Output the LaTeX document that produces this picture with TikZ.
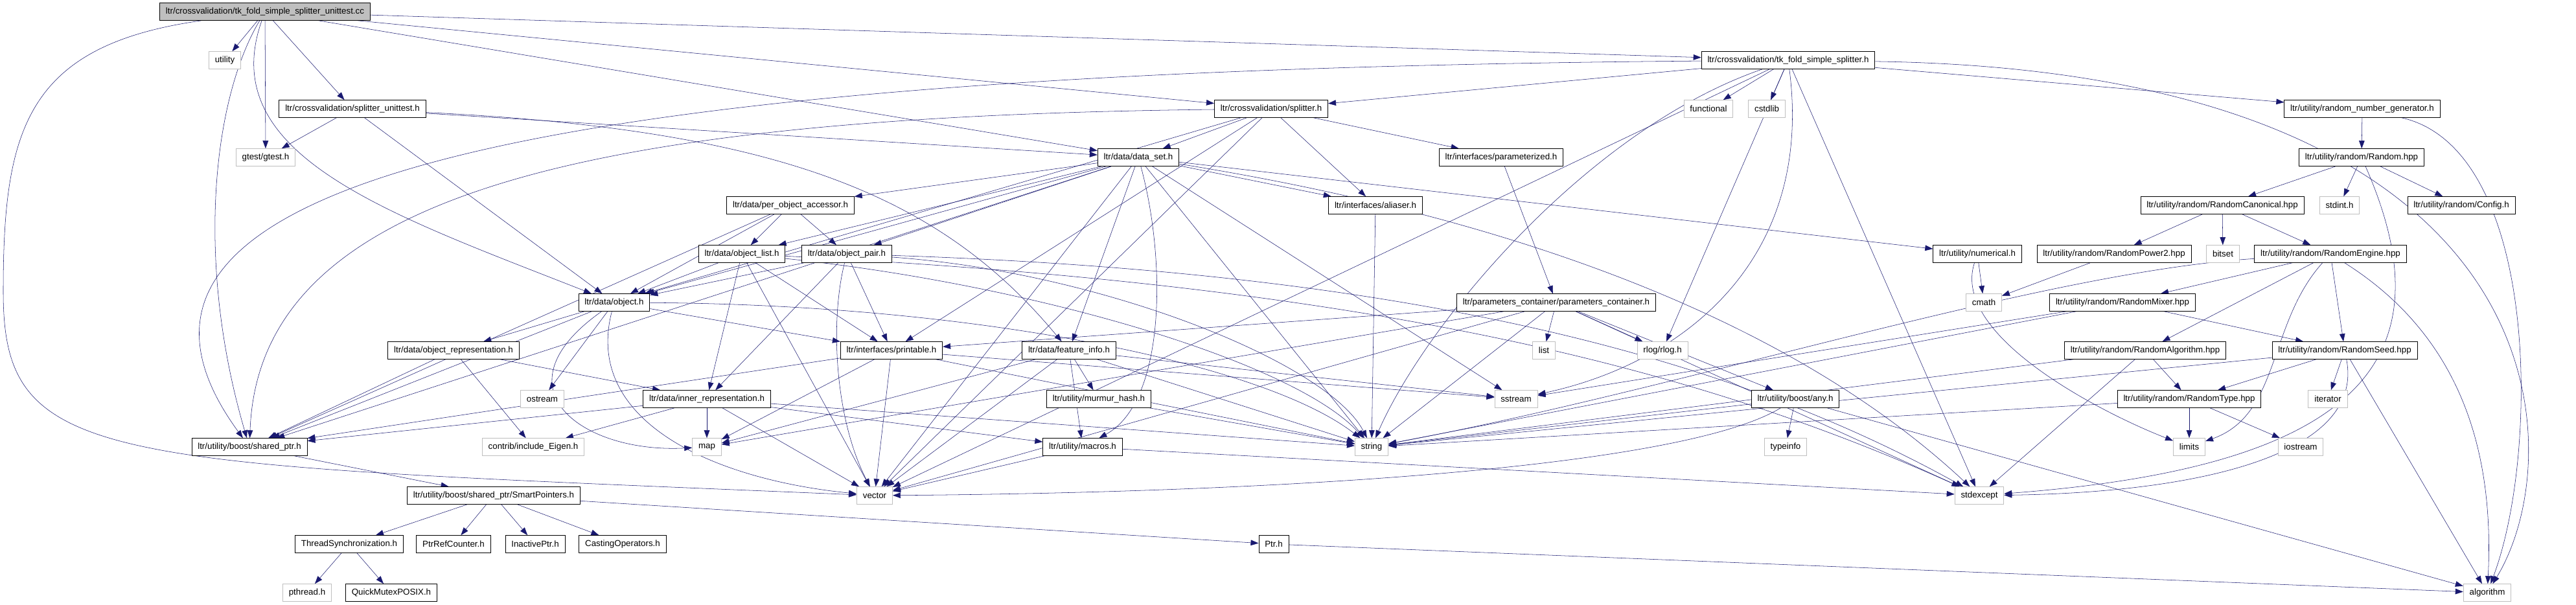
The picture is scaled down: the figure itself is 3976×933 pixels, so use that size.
\documentclass[tikz,border=0pt]{standalone}
\usepackage{fontspec}
\setmainfont{Liberation Sans}
\usetikzlibrary{arrows.meta}
\pgfdeclarelayer{edges}
\pgfsetlayers{edges,main}
\definecolor{edgeblue}{HTML}{191970}
\definecolor{extgray}{HTML}{BFBFBF}
\begin{document}
\begin{tikzpicture}[x=0.75pt,y=-0.75pt,>={Triangle[length=9pt,width=6.5pt]},line width=0.7pt]
    \tikzstyle{file}=[rectangle, draw, fill=white, minimum height=20pt, inner xsep=7pt, inner ysep=0pt, font=\fontsize{10}{12}\selectfont]
    \tikzstyle{sysfile}=[file, draw=extgray]
    \tikzstyle{dep}=[->, color=edgeblue]
    \useasboundingbox (0,0) rectangle (3976,933);
    \node[file, fill=extgray] (root) at (409,18) {ltr/crossvalidation/tk\_fold\_simple\_splitter\_unittest.cc};
    \node[sysfile] (utility) at (347,93) {utility};
    \node[file] (sptest) at (544,168) {ltr/crossvalidation/splitter\_unittest.h};
    \node[sysfile] (gtest) at (410,243) {gtest/gtest.h};
    \node[file] (tkfold) at (2760,93) {ltr/crossvalidation/tk\_fold\_simple\_splitter.h};
    \node[file] (splitter) at (1962,168) {ltr/crossvalidation/splitter.h};
    \node[sysfile] (functional) at (2637,168) {functional};
    \node[sysfile] (cstdlib) at (2727,168) {cstdlib};
    \node[file] (rng) at (3646,168) {ltr/utility/random\_number\_generator.h};
    \node[file] (dataset) at (1757,243) {ltr/data/data\_set.h};
    \node[file] (param) at (2317,243) {ltr/interfaces/parameterized.h};
    \node[file] (random) at (3645,243) {ltr/utility/random/Random.hpp};
    \node[file] (pobjacc) at (1220,317) {ltr/data/per\_object\_accessor.h};
    \node[file] (aliaser) at (2123,317) {ltr/interfaces/aliaser.h};
    \node[file] (rcanon) at (3430,317) {ltr/utility/random/RandomCanonical.hpp};
    \node[sysfile] (stdint) at (3611,317) {stdint.h};
    \node[file] (config) at (3799,317) {ltr/utility/random/Config.h};
    \node[file] (objlist) at (1145,392) {ltr/data/object\_list.h};
    \node[file] (objpair) at (1307,392) {ltr/data/object\_pair.h};
    \node[file] (numerical) at (3052,392) {ltr/utility/numerical.h};
    \node[file] (rpow2) at (3263,392) {ltr/utility/random/RandomPower2.hpp};
    \node[sysfile] (bitset) at (3431,392) {bitset};
    \node[file] (rengine) at (3597,392) {ltr/utility/random/RandomEngine.hpp};
    \node[file] (object) at (948,467) {ltr/data/object.h};
    \node[file] (paramcont) at (2402,467) {ltr/parameters\_container/parameters\_container.h};
    \node[sysfile] (cmath) at (3062,467) {cmath};
    \node[file] (rmixer) at (3276,467) {ltr/utility/random/RandomMixer.hpp};
    \node[file] (objrepr) at (700,541) {ltr/data/object\_representation.h};
    \node[file] (printable) at (1376,541) {ltr/interfaces/printable.h};
    \node[file] (featinfo) at (1650,541) {ltr/data/feature\_info.h};
    \node[sysfile] (list) at (2383,541) {list};
    \node[sysfile] (rlog) at (2566,541) {rlog/rlog.h};
    \node[file] (ralg) at (3311,541) {ltr/utility/random/RandomAlgorithm.hpp};
    \node[file] (rseed) at (3619,541) {ltr/utility/random/RandomSeed.hpp};
    \node[sysfile] (ostream) at (837,616) {ostream};
    \node[file] (innerrep) at (1091,616) {ltr/data/inner\_representation.h};
    \node[file] (murmur) at (1696,616) {ltr/utility/murmur\_hash.h};
    \node[sysfile] (sstream) at (2340,616) {sstream};
    \node[file] (anyh) at (2771,616) {ltr/utility/boost/any.h};
    \node[file] (rtype) at (3379,616) {ltr/utility/random/RandomType.hpp};
    \node[sysfile] (iterator) at (3593,616) {iterator};
    \node[file] (sharedptr) at (385,690) {ltr/utility/boost/shared\_ptr.h};
    \node[sysfile] (eigen) at (823,690) {contrib/include\_Eigen.h};
    \node[sysfile] (map) at (1091,690) {map};
    \node[file] (macros) at (1671,690) {ltr/utility/macros.h};
    \node[sysfile] (string) at (2117,690) {string};
    \node[sysfile] (typeinfo) at (2756,690) {typeinfo};
    \node[sysfile] (limits) at (3379,690) {limits};
    \node[sysfile] (iostream) at (3551,690) {iostream};
    \node[file] (smartptr) at (762,765) {ltr/utility/boost/shared\_ptr/SmartPointers.h};
    \node[sysfile] (vector) at (1350,765) {vector};
    \node[sysfile] (stdexcept) at (3055,765) {stdexcept};
    \node[file] (threadsync) at (539,840) {ThreadSynchronization.h};
    \node[file] (ptrref) at (700,840) {PtrRefCounter.h};
    \node[file] (inactive) at (826,840) {InactivePtr.h};
    \node[file] (casting) at (961,840) {CastingOperators.h};
    \node[file] (ptrh) at (1966,840) {Ptr.h};
    \node[sysfile] (pthread) at (474,915) {pthread.h};
    \node[file] (quickmutex) at (604,915) {QuickMutexPOSIX.h};
    \node[sysfile] (algorithm) at (3839,915) {algorithm};
    \begin{pgfonlayer}{edges}
    \draw[dep] (root) -- (utility);
    \draw[dep] (root) -- (gtest);
    \draw[dep] (root) -- (sptest);
    \draw[dep] (root) -- (tkfold);
    \draw[dep] (root) -- (splitter);
    \draw[dep] (root) -- (dataset);
    \draw[dep] (root) .. controls (330,240) and (600,330) .. (object);
    \draw[dep] (root) .. controls (330,150) and (300,400) .. (sharedptr);
    \draw[dep] (root) .. controls (40,70) and (5,200) .. (5,450) .. controls (5,720) and (150,715) .. (vector);
    \draw[dep] (sptest) -- (gtest);
    \draw[dep] (sptest) -- (dataset);
    \draw[dep] (sptest) -- (object);
    \draw[dep] (sptest) .. controls (1200,200) and (1450,300) .. (featinfo);
    \draw[dep] (tkfold) -- (splitter);
    \draw[dep] (tkfold) -- (functional);
    \draw[dep] (tkfold) -- (cstdlib);
    \draw[dep] (tkfold) -- (rng);
    \draw[dep] (tkfold) -- (rlog);
    \draw[dep] (tkfold) -- (stdexcept);
    \draw[dep] (tkfold) -- (vector);
    \draw[dep] (tkfold) .. controls (2450,200) and (2200,500) .. (string);
    \draw[dep] (tkfold) .. controls (2800,400) and (2600,560) .. (sstream);
    \draw[dep] (tkfold) .. controls (3960,110) and (3970,700) .. (algorithm);
    \draw[dep] (tkfold) .. controls (700,110) and (100,300) .. (sharedptr);
    \draw[dep] (splitter) -- (dataset);
    \draw[dep] (splitter) -- (param);
    \draw[dep] (splitter) -- (aliaser);
    \draw[dep] (splitter) -- (printable);
    \draw[dep] (splitter) -- (object);
    \draw[dep] (splitter) -- (vector);
    \draw[dep] (splitter) .. controls (900,180) and (400,300) .. (sharedptr);
    \draw[dep] (rng) -- (random);
    \draw[dep] (rng) .. controls (3920,230) and (3920,700) .. (algorithm);
    \draw[dep] (random) -- (rcanon);
    \draw[dep] (random) -- (stdint);
    \draw[dep] (random) -- (config);
    \draw[dep] (random) .. controls (3780,550) and (3650,720) .. (stdexcept);
    \draw[dep] (rcanon) -- (rpow2);
    \draw[dep] (rcanon) -- (bitset);
    \draw[dep] (rcanon) -- (rengine);
    \draw[dep] (rpow2) -- (cmath);
    \draw[dep] (numerical) -- (cmath);
    \draw[dep] (numerical) .. controls (3010,520) and (3250,640) .. (limits);
    \draw[dep] (rengine) -- (rmixer);
    \draw[dep] (rengine) -- (ralg);
    \draw[dep] (rengine) -- (rseed);
    \draw[dep] (rengine) .. controls (3500,500) and (3520,640) .. (limits);
    \draw[dep] (rengine) .. controls (3800,520) and (3850,700) .. (algorithm);
    \draw[dep] (rengine) .. controls (3150,420) and (2600,600) .. (string);
    \draw[dep] (rmixer) -- (rseed);
    \draw[dep] (rmixer) -- (string);
    \draw[dep] (rmixer) -- (sstream);
    \draw[dep] (ralg) -- (rtype);
    \draw[dep] (ralg) -- (string);
    \draw[dep] (ralg) -- (stdexcept);
    \draw[dep] (rseed) -- (rtype);
    \draw[dep] (rseed) -- (iterator);
    \draw[dep] (rseed) -- (string);
    \draw[dep] (rseed) -- (algorithm);
    \draw[dep] (rseed) .. controls (3650,700) and (3400,760) .. (stdexcept);
    \draw[dep] (rtype) -- (limits);
    \draw[dep] (rtype) -- (iostream);
    \draw[dep] (rtype) -- (string);
    \draw[dep] (dataset) -- (pobjacc);
    \draw[dep] (dataset) -- (objlist);
    \draw[dep] (dataset) -- (objpair);
    \draw[dep] (dataset) -- (object);
    \draw[dep] (dataset) -- (featinfo);
    \draw[dep] (dataset) -- (aliaser);
    \draw[dep] (dataset) -- (numerical);
    \draw[dep] (dataset) -- (sharedptr);
    \draw[dep] (dataset) -- (vector);
    \draw[dep] (dataset) -- (string);
    \draw[dep] (dataset) -- (sstream);
    \draw[dep] (dataset) .. controls (1800,400) and (1800,620) .. (macros);
    \draw[dep] (dataset) .. controls (2300,330) and (2750,480) .. (stdexcept);
    \draw[dep] (param) -- (paramcont);
    \draw[dep] (aliaser) -- (string);
    \draw[dep] (pobjacc) -- (objlist);
    \draw[dep] (pobjacc) -- (objpair);
    \draw[dep] (pobjacc) -- (object);
    \draw[dep] (pobjacc) -- (sharedptr);
    \draw[dep] (objlist) -- (object);
    \draw[dep] (objlist) -- (innerrep);
    \draw[dep] (objlist) -- (printable);
    \draw[dep] (objlist) -- (vector);
    \draw[dep] (objlist) .. controls (1600,440) and (2000,560) .. (string);
    \draw[dep] (objlist) .. controls (2100,440) and (2600,560) .. (stdexcept);
    \draw[dep] (objpair) -- (object);
    \draw[dep] (objpair) -- (innerrep);
    \draw[dep] (objpair) -- (printable);
    \draw[dep] (objpair) .. controls (1280,500) and (1290,650) .. (vector);
    \draw[dep] (objpair) .. controls (1700,420) and (2050,560) .. (string);
    \draw[dep] (objpair) .. controls (2150,420) and (2650,540) .. (stdexcept);
    \draw[dep] (object) -- (objrepr);
    \draw[dep] (object) -- (ostream);
    \draw[dep] (object) -- (printable);
    \draw[dep] (object) -- (sharedptr);
    \draw[dep] (object) .. controls (760,600) and (900,700) .. (map);
    \draw[dep] (object) .. controls (900,650) and (1100,740) .. (vector);
    \draw[dep] (object) .. controls (1500,470) and (1950,560) .. (string);
    \draw[dep] (objrepr) -- (sharedptr);
    \draw[dep] (objrepr) -- (eigen);
    \draw[dep] (objrepr) -- (innerrep);
    \draw[dep] (innerrep) -- (map);
    \draw[dep] (innerrep) -- (vector);
    \draw[dep] (innerrep) -- (macros);
    \draw[dep] (innerrep) -- (eigen);
    \draw[dep] (innerrep) -- (sharedptr);
    \draw[dep] (innerrep) -- (string);
    \draw[dep] (printable) -- (sharedptr);
    \draw[dep] (printable) -- (string);
    \draw[dep] (printable) -- (vector);
    \draw[dep] (printable) -- (sstream);
    \draw[dep] (printable) -- (map);
    \draw[dep] (featinfo) -- (murmur);
    \draw[dep] (featinfo) -- (macros);
    \draw[dep] (featinfo) -- (vector);
    \draw[dep] (featinfo) -- (string);
    \draw[dep] (featinfo) -- (map);
    \draw[dep] (featinfo) -- (sstream);
    \draw[dep] (murmur) -- (string);
    \draw[dep] (macros) -- (stdexcept);
    \draw[dep] (macros) -- (vector);
    \draw[dep] (paramcont) -- (list);
    \draw[dep] (paramcont) -- (rlog);
    \draw[dep] (paramcont) -- (anyh);
    \draw[dep] (paramcont) -- (printable);
    \draw[dep] (paramcont) -- (string);
    \draw[dep] (paramcont) -- (map);
    \draw[dep] (paramcont) -- (stdexcept);
    \draw[dep] (paramcont) -- (vector);
    \draw[dep] (anyh) -- (typeinfo);
    \draw[dep] (anyh) -- (string);
    \draw[dep] (anyh) -- (algorithm);
    \draw[dep] (anyh) .. controls (2600,720) and (2000,760) .. (vector);
    \draw[dep] (sharedptr) -- (smartptr);
    \draw[dep] (smartptr) -- (threadsync);
    \draw[dep] (smartptr) -- (ptrref);
    \draw[dep] (smartptr) -- (inactive);
    \draw[dep] (smartptr) -- (casting);
    \draw[dep] (smartptr) -- (ptrh);
    \draw[dep] (ptrh) -- (algorithm);
    \draw[dep] (threadsync) -- (pthread);
    \draw[dep] (threadsync) -- (quickmutex);
    \end{pgfonlayer}
\end{tikzpicture}
\end{document}
